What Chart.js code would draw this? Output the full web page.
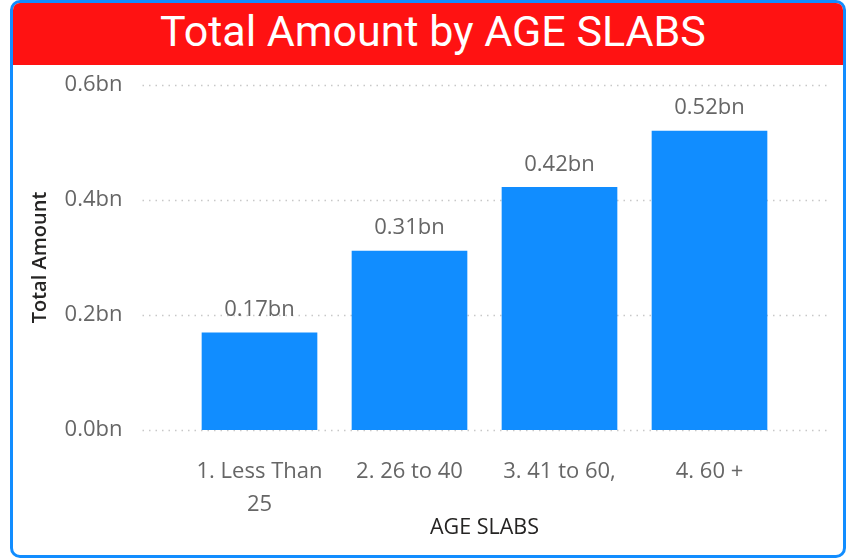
<!DOCTYPE html>
<html>
<head>
<meta charset="utf-8">
<script src="https://cdn.jsdelivr.net/npm/chart.js@4.4.1/dist/chart.umd.min.js"></script>
<style>
  body { margin: 0; background: #fff; }
  .card {
    position: absolute; left: 10px; top: 0; width: 836px; height: 558px;
    box-sizing: border-box; border: 3px solid #118DFF; border-radius: 10px;
    overflow: hidden; background: #fff;
  }
  .header {
    height: 62px; background: #FF1212; color: #fff;
    font-family: Roboto, sans-serif; font-size: 43px;
    line-height: 56px; text-align: center; padding-left: 10px;
  }
  .wrap { position: relative; width: 830px; height: 490px; }
</style>
</head>
<body>
<div class="card">
  <div class="header">Total Amount by AGE SLABS</div>
  <div class="wrap"><canvas id="chart"></canvas></div>
</div>
<script>
const categories = [["1. Less Than", "25"], "2. 26 to 40", "3. 41 to 60,", "4. 60 +"];
const amounts = [0.169, 0.311, 0.422, 0.52]; // billions
const yTicks = [0, 0.2, 0.4, 0.6];

const tickFont = { family: "'Open Sans', sans-serif", size: 22 };

// dotted gridlines that run wider than the bar area, like Power BI
const dottedGrid = {
  id: 'dottedGrid',
  beforeDatasetsDraw(chart) {
    const ctx = chart.ctx;
    const area = chart.chartArea;
    const y = chart.scales.y;
    ctx.save();
    ctx.strokeStyle = '#c8c8c8';
    ctx.lineWidth = 1.5;
    ctx.setLineDash([1.5, 5]);
    yTicks.forEach(v => {
      const py = Math.round(y.getPixelForValue(v)) + 0.5;
      ctx.beginPath();
      ctx.moveTo(area.left - 42, py);
      ctx.lineTo(area.right + 42, py);
      ctx.stroke();
    });
    ctx.restore();
  }
};

const barLabels = {
  id: 'barLabels',
  afterDatasetsDraw(chart) {
    const ctx = chart.ctx;
    const meta = chart.getDatasetMeta(0);
    ctx.save();
    ctx.fillStyle = '#666666';
    ctx.font = "22px 'Open Sans', sans-serif";
    ctx.textAlign = 'center';
    ctx.textBaseline = 'middle';
    meta.data.forEach((bar, i) => {
      ctx.fillText(amounts[i].toFixed(2) + 'bn', bar.x, bar.y - 23);
    });
    ctx.restore();
  }
};

new Chart(document.getElementById('chart'), {
  type: 'bar',
  data: {
    labels: categories,
    datasets: [{
      data: amounts,
      backgroundColor: '#118DFF',
      barThickness: 115
    }]
  },
  options: {
    responsive: true,
    maintainAspectRatio: false,
    animation: false,
    layout: { padding: { top: 20, right: 58.5, bottom: 14, left: 0 } },
    plugins: { legend: { display: false }, tooltip: { enabled: false } },
    scales: {
      x: {
        grid: { display: false, drawTicks: false },
        border: { display: false },
        ticks: { color: '#666666', font: { ...tickFont, lineHeight: 1.5 }, padding: 25, maxRotation: 0 },
        title: {
          display: true, text: 'AGE SLABS', color: '#252423',
          font: { family: "'Open Sans', sans-serif", size: 21.5 }, padding: { top: 4, bottom: 0 }
        },
        afterFit(scale) { scale.height = 111; }
      },
      y: {
        min: 0, max: 0.6,
        grid: { display: false, drawTicks: false },
        border: { display: false },
        ticks: {
          stepSize: 0.2, color: '#666666', font: tickFont, padding: 62,
          callback: v => v.toFixed(1) + 'bn'
        },
        title: {
          display: true, text: 'Total Amount', color: '#252423',
          font: { family: "'Open Sans', sans-serif", size: 20, weight: '600' }, padding: 15
        },
        afterFit(scale) {
          scale.width = 171.5;
          // big tick padding otherwise pushes the plot area down
          scale.paddingTop = 0;
          scale.paddingBottom = 0;
        }
      }
    }
  },
  plugins: [dottedGrid, barLabels]
});
</script>
</body>
</html>
